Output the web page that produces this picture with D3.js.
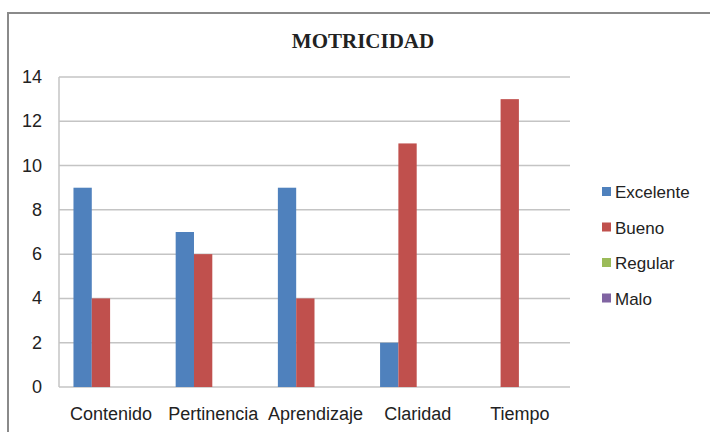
<!DOCTYPE html>
<html>
<head>
<meta charset="utf-8">
<script src="https://cdn.jsdelivr.net/npm/d3@7/dist/d3.min.js"></script>
<style>
  body { margin: 0; background: #fff; }
  svg text { font-family: "Liberation Sans", Arial, sans-serif; fill: #222; }
</style>
</head>
<body>
<div id="chart"></div>
<script>
var categories = ["Contenido", "Pertinencia", "Aprendizaje", "Claridad", "Tiempo"];
var seriesNames = ["Excelente", "Bueno", "Regular", "Malo"];
var excelente = [9, 7, 9, 2, 0];
var bueno = [4, 6, 4, 11, 13];
var regular = [0, 0, 0, 0, 0];
var malo = [0, 0, 0, 0, 0];
var yTicks = [0, 2, 4, 6, 8, 10, 12, 14];
var colors = ["#4F81BD", "#C0504D", "#9BBB59", "#8064A2"];

var width = 710, height = 432;
var margin = {top: 77, right: 140, bottom: 45, left: 59};

var svg = d3.select("#chart").append("svg")
    .attr("width", width)
    .attr("height", height);

// chart frame (only top/left visible in the crop)
svg.append("rect")
    .attr("x", 8).attr("y", 13)
    .attr("width", 760).attr("height", 480)
    .style("fill", "none")
    .style("stroke", "#8a8a8a")
    .style("stroke-width", 2);

svg.append("text")
    .attr("x", 363).attr("y", 48)
    .attr("text-anchor", "middle")
    .style("font-family", "'Liberation Serif', 'Times New Roman', serif")
    .style("font-weight", "bold")
    .style("font-size", "21px")
    .text("MOTRICIDAD");

var x0 = d3.scaleBand().domain(categories)
    .range([margin.left, width - margin.right]);
var x1 = d3.scaleBand().domain(seriesNames)
    .range([0, x0.bandwidth()])
    .paddingOuter(0.79);
var y = d3.scaleLinear().domain([0, 14])
    .range([height - margin.bottom, margin.top]);

// gridlines
svg.append("g").selectAll("line")
    .data(yTicks).enter()
    .append("line")
    .attr("x1", margin.left).attr("x2", width - margin.right)
    .attr("y1", function(d){ return y(d); })
    .attr("y2", function(d){ return y(d); })
    .style("stroke", "#c4c4c4")
    .style("stroke-width", 1.5);

// left axis line
svg.append("line")
    .attr("x1", margin.left).attr("x2", margin.left)
    .attr("y1", y(14)).attr("y2", y(0))
    .style("stroke", "#c4c4c4")
    .style("stroke-width", 1.5);

// y labels
svg.append("g").selectAll("text")
    .data(yTicks).enter()
    .append("text")
    .attr("x", 42)
    .attr("y", function(d){ return y(d) + 6; })
    .attr("text-anchor", "end")
    .style("font-size", "18px")
    .text(function(d){ return d; });

// bars, one group per series (zero values draw nothing)
var seriesData = [excelente, bueno, regular, malo];
seriesData.forEach(function(vals, si){
    svg.append("g").selectAll("rect")
        .data(vals.map(function(v, i){ return {cat: categories[i], v: v}; }).filter(function(d){ return d.v > 0; }))
        .enter()
        .append("rect")
        .attr("x", function(d){ return x0(d.cat) + x1(seriesNames[si]); })
        .attr("width", x1.bandwidth())
        .attr("y", function(d){ return y(d.v); })
        .attr("height", function(d){ return y(0) - y(d.v); })
        .style("fill", colors[si]);
});

// x labels
svg.append("g").selectAll("text")
    .data(categories).enter()
    .append("text")
    .attr("x", function(d){ return x0(d) + x0.bandwidth() / 2 + 1; })
    .attr("y", 420)
    .attr("text-anchor", "middle")
    .style("font-size", "18px")
    .text(function(d){ return d; });

// legend
var legend = svg.append("g").selectAll("g")
    .data(seriesNames).enter()
    .append("g")
    .attr("transform", function(d, i){ return "translate(602," + (192 + i * 35.5) + ")"; });
legend.append("rect")
    .attr("x", 0).attr("y", -5)
    .attr("width", 9).attr("height", 9)
    .style("fill", function(d, i){ return colors[i]; });
legend.append("text")
    .attr("x", 13).attr("y", 6)
    .style("font-size", "17px")
    .text(function(d){ return d; });
</script>
</body>
</html>
